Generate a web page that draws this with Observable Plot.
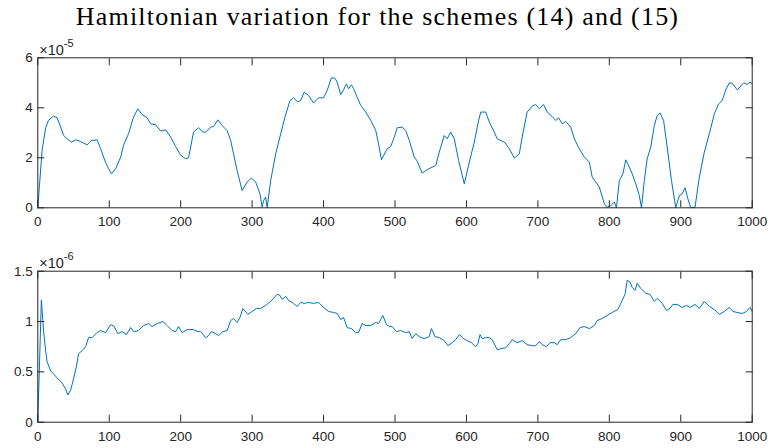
<!DOCTYPE html>
<html><head><meta charset="utf-8">
<script src="https://cdn.jsdelivr.net/npm/d3@7"></script>
<script src="https://cdn.jsdelivr.net/npm/@observablehq/plot@0.6"></script>
<style>
body{margin:0;background:#fff;}
#fig{position:relative;width:770px;height:448px;overflow:hidden;background:#fff}
#title{position:absolute;left:0;width:755px;top:2px;text-align:center;font-family:"Liberation Serif","Times New Roman",serif;font-size:26px;letter-spacing:1.2px;color:#000;white-space:nowrap;line-height:30px}
#p1{position:absolute;left:0;top:40px}
#p2{position:absolute;left:0;top:235px}
</style></head><body>
<div id="fig"><div id="title"></div><div id="p1"></div><div id="p2"></div></div>
<script>
const titleText = "Hamiltonian variation for the schemes (14) and (15)";
const xTicks = [0,100,200,300,400,500,600,700,800,900,1000];

// Scheme (14): Hamiltonian variation, units of 1e-5
const t14 = [0,6,11,15,22,27,32,36,41,47,53,60,69,75,83,88,95,103,109,116,120,127,134,140,146,153,158,165,172,179,186,193,200,207,211,218,225,231,235,242,246,252,258,265,270,274,279,286,293,299,305,311,314,316,319,321,326,333,340,346,353,358,364,368,373,379,386,393,400,405,411,416,419,424,428,432,435,439,442,447,452,459,466,473,477,481,489,494,499,503,510,515,520,527,531,538,543,550,557,562,569,573,578,583,589,597,604,611,617,620,627,632,639,643,653,660,667,674,678,685,692,697,702,708,713,720,725,729,734,739,746,751,758,765,772,776,786,793,797,802,807,810,814,819,823,828,832,837,842,845,849,853,858,863,867,871,876,881,887,893,898,902,906,910,914,920,926,933,940,947,953,958,963,968,972,979,984,988,993,997,1000];
const h14 = [0,2.3,3.2,3.5,3.67,3.6,3.23,2.9,2.76,2.63,2.72,2.65,2.52,2.69,2.72,2.36,1.8,1.36,1.56,2.03,2.5,2.96,3.63,3.96,3.73,3.6,3.36,3.32,3.07,3.12,2.83,2.45,2.1,1.96,2.0,3.03,3.2,3.03,3.03,3.23,3.25,3.52,3.29,3.09,2.69,2.16,1.49,0.69,1.03,1.19,1.03,0.56,0.03,0.29,0.43,0,1.09,2.16,2.96,3.63,4.29,4.4,4.23,4.3,4.63,4.49,4.19,4.4,4.4,4.69,5.2,5.18,5.03,4.53,4.72,4.96,4.76,4.92,4.76,4.43,4.1,3.83,3.5,3.1,2.56,1.92,2.36,2.45,2.83,3.2,3.23,3.09,2.69,2.03,1.87,1.39,1.49,1.6,1.69,2.23,2.89,2.76,3.03,2.76,1.89,0.96,1.83,2.63,3.49,3.83,3.83,3.43,3.03,2.76,2.63,2.36,1.99,2.16,2.83,3.83,4.07,4.13,3.96,4.13,3.83,3.65,3.49,3.6,3.36,3.45,3.23,2.76,2.36,2.03,1.83,1.23,0.83,0.16,0.03,0.09,0.23,0,1.09,1.36,1.92,1.63,1.36,0.96,0.49,0,1.09,1.96,2.43,3.29,3.69,3.79,3.49,2.43,1.09,0,0.49,0.56,0.8,0.36,0,0.03,1.23,2.23,2.96,3.76,4.16,4.29,4.72,5.0,4.98,4.72,4.87,5.0,4.93,5.03,4.96];

// Scheme (15): Hamiltonian variation, units of 1e-6
const t15 = [0,5,8,11,13,18,22,27,34,39,42,46,50,54,57,62,67,71,76,83,88,95,102,107,112,118,124,130,134,141,148,155,160,167,175,181,188,193,197,202,209,218,224,228,235,239,243,249,253,259,265,270,274,279,283,287,294,300,306,312,319,326,330,335,339,342,347,351,358,363,368,373,379,386,393,400,407,414,419,424,428,433,439,445,449,454,459,466,473,477,483,488,493,496,502,508,515,520,524,529,534,541,548,551,556,562,569,574,580,585,590,596,601,607,613,616,619,622,627,632,636,643,648,655,660,664,671,678,685,692,697,702,706,712,717,723,727,732,739,746,753,759,765,772,779,783,790,797,804,812,818,822,825,829,832,836,839,844,851,857,863,867,874,880,885,889,895,902,908,913,920,926,933,940,947,954,961,968,973,979,986,992,997,1000];
const h15 = [0,1.215,0.91,0.71,0.6,0.51,0.48,0.44,0.39,0.33,0.27,0.32,0.43,0.55,0.68,0.71,0.75,0.84,0.84,0.89,0.91,0.89,0.97,0.95,0.88,0.9,0.87,0.94,0.9,0.91,0.96,0.98,0.95,0.98,1.0,0.96,0.91,0.9,0.95,0.89,0.92,0.92,0.9,0.9,0.84,0.86,0.9,0.88,0.86,0.9,0.91,1.01,1.03,0.99,1.04,1.13,1.07,1.1,1.13,1.13,1.16,1.2,1.23,1.27,1.26,1.22,1.25,1.21,1.18,1.15,1.19,1.18,1.19,1.18,1.19,1.14,1.1,1.09,1.08,1.02,1.04,0.94,0.93,0.89,0.89,0.98,0.96,0.96,0.99,0.98,1.06,0.97,0.95,0.95,0.9,0.91,0.89,0.9,0.83,0.88,0.85,0.83,0.85,0.93,0.85,0.84,0.81,0.76,0.79,0.82,0.87,0.83,0.81,0.79,0.75,0.78,0.87,0.83,0.84,0.84,0.82,0.72,0.73,0.74,0.78,0.82,0.79,0.81,0.77,0.76,0.76,0.8,0.77,0.75,0.79,0.79,0.77,0.82,0.82,0.84,0.88,0.94,0.95,0.93,0.96,1.01,1.03,1.06,1.09,1.12,1.21,1.27,1.41,1.39,1.34,1.31,1.38,1.33,1.28,1.27,1.2,1.23,1.18,1.11,1.13,1.17,1.17,1.14,1.16,1.14,1.17,1.13,1.2,1.15,1.12,1.07,1.1,1.14,1.1,1.09,1.08,1.1,1.14,1.1];

const yTicks14 = [0,2,4,6];
const yTicks15 = [0,0.5,1,1.5];
const exp14 = "-5";
const exp15 = "-6";

const axisColor = "#262626";
const lineColor = "#0072BD";

function panel(t, v, yDomain, yTicks, expo, height, marginTop, marginBottom) {
  const data = t.map((x, i) => ({t: x, v: v[i]}));
  return Plot.plot({
    width: 770, height, marginLeft: 37.3, marginRight: 18.3, marginTop, marginBottom,
    style: {fontFamily: "'Liberation Sans', Arial, sans-serif", fontSize: "13.5px", color: axisColor, background: "white", overflow: "visible"},
    x: {domain: [0, 1000]},
    y: {domain: yDomain},
    marks: [
      Plot.line(data, {x: "t", y: "v", stroke: lineColor, strokeWidth: 1}),
      Plot.axisX(xTicks, {anchor: "bottom", tickSize: 0, tickPadding: 9, tickFormat: d => String(d), label: null}),
      Plot.axisX(xTicks, {anchor: "bottom", tickSize: -7, tickFormat: () => "", label: null}),
      Plot.axisX(xTicks, {anchor: "top", tickSize: -7, tickFormat: () => "", label: null}),
      Plot.axisY(yTicks, {anchor: "left", tickSize: 0, tickPadding: 5, tickFormat: d => String(d), label: null}),
      Plot.axisY(yTicks, {anchor: "left", tickSize: -7, tickFormat: () => "", label: null}),
      Plot.axisY(yTicks, {anchor: "right", tickSize: -7, tickFormat: () => "", label: null}),
      Plot.frame({stroke: axisColor}),
      Plot.text(["×10"], {frameAnchor: "top-left", text: d => d, dx: 1.5, dy: -3, textAnchor: "start", lineAnchor: "bottom", fill: axisColor, fontSize: 14.5}),
      Plot.text([expo], {frameAnchor: "top-left", text: d => d, dx: 26, dy: -11, textAnchor: "start", lineAnchor: "bottom", fill: axisColor, fontSize: 11})
    ]
  });
}

document.getElementById("title").textContent = titleText;
document.getElementById("p1").appendChild(panel(t14, h14, [0, 6], yTicks14, exp14, 195, 17.3, 27.7));
document.getElementById("p2").appendChild(panel(t15, h15, [0, 1.5], yTicks15, exp15, 213, 35.7, 26.3));
</script>
</body></html>
